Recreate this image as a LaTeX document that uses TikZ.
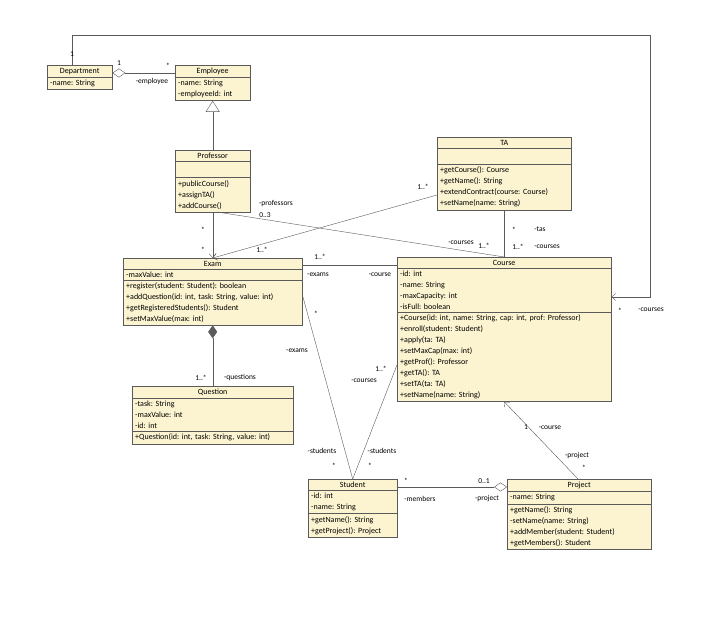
\documentclass[tikz,border=0pt]{standalone}
\usepackage{fontspec}
\setmainfont{Carlito}
\usetikzlibrary{shapes.multipart,arrows.meta,calc}
\definecolor{classfill}{RGB}{252,244,208}
\definecolor{lineclr}{RGB}{90,90,90}
\newcommand{\ctitle}[1]{\hfill#1\hfill\null}
\tikzset{
  umlclass/.style={draw=lineclr, fill=classfill, rectangle split, rectangle split parts=3,
    anchor=north west, inner xsep=3pt, align=left,
    inner ysep=2.5pt, font=\fontsize{8}{11}\selectfont\frenchspacing, text width=#1},
  umlsmall/.style={umlclass=#1, rectangle split parts=2},
  lbl/.style={font=\fontsize{7.5}{9}\selectfont, inner sep=1pt},
  assoc/.style={draw=lineclr},
  nav/.style={assoc, -{Straight Barb[length=4pt,width=7pt]}},
}
\begin{document}
\begin{tikzpicture}[x=1pt, y=-1pt]
    \useasboundingbox (0,0) rectangle (724,620);
    % classes
    \node[umlsmall=59pt] (dept) at (47,65) {\ctitle{Department}\nodepart{two}-name: String};
    \node[umlsmall=69pt] (emp) at (175,65) {\ctitle{Employee}\nodepart{two}-name: String\\-employeeId: int};
    \node[umlclass=69pt] (prof) at (175,150) {\ctitle{Professor}\nodepart{two}\strut\nodepart{three}+publicCourse()\\+assignTA()\\+addCourse()};
    \node[umlclass=128pt] (ta) at (437,137) {\ctitle{TA}\nodepart{two}\strut\nodepart{three}+getCourse(): Course\\+getName(): String\\+extendContract(course: Course)\\+setName(name: String)};
    \node[umlclass=173pt] (exam) at (123,258) {\ctitle{Exam}\nodepart{two}-maxValue: int\nodepart{three}+register(student: Student): boolean\\+addQuestion(id: int, task: String, value: int)\\+getRegisteredStudents(): Student\\+setMaxValue(max: int)};
    \node[umlclass=208pt] (course) at (397,257) {\ctitle{Course}\nodepart{two}-id: int\\-name: String\\-maxCapacity: int\\-isFull: boolean\nodepart{three}+Course(id: int, name: String, cap: int, prof: Professor)\\+enroll(student: Student)\\+apply(ta: TA)\\+setMaxCap(max: int)\\+getProf(): Professor\\+getTA(): TA\\+setTA(ta: TA)\\+setName(name: String)};
    \node[umlclass=155pt] (quest) at (132,386) {\ctitle{Question}\nodepart{two}-task: String\\-maxValue: int\\-id: int\nodepart{three}+Question(id: int, task: String, value: int)};
    \node[umlclass=83pt] (stud) at (308,479) {\ctitle{Student}\nodepart{two}-id: int\\-name: String\nodepart{three}+getName(): String\\+getProject(): Project};
    \node[umlclass=138pt] (proj) at (507,479) {\ctitle{Project}\nodepart{two}-name: String\nodepart{three}+getName(): String\\-setName(name: String)\\+addMember(student: Student)\\+getMembers(): Student};

    % connectors
    \coordinate (corner) at (650,35);
    \draw[nav] ($(dept.north west)+(25,0)$) |- (corner) |- ($(course.north east)+(0,40)$);
    \draw[assoc, {Diamond[open,length=13pt,width=9pt]}-] ($(dept.north east)+(0,8)$) -- ($(emp.north west)+(0,8)$);
    \draw[assoc, -{Triangle[open,length=11pt,width=14pt]}] (prof.north) -- (emp.south);
    \draw[nav] (prof.south) -- (exam.north);
    \draw[nav] ($(ta.north west)+(0,58)$) -- (exam.north);
    \draw[assoc] ($(prof.south)+(5,0)$) -- (course.north);
    \draw[assoc] (ta.south -| course.north) -- (course.north);
    \draw[assoc] ($(exam.north east)+(0,7)$) -- ($(course.north west)+(0,8)$);
    \draw[assoc] ($(exam.north east)+(0,37)$) -- (stud.north);
    \draw[assoc] ($(course.north west)+(0,108)$) -- (stud.north);
    \draw[assoc, -{Diamond[open,length=13pt,width=9pt]}] ($(stud.north east)+(0,8)$) -- ($(proj.north west)+(0,8)$);
    \draw[nav] ($(proj.north west)+(71,0)$) -- (course.south);
    \draw[assoc, {Diamond[length=13pt,width=9pt]}-] (exam.south) -- (quest.north);

    % multiplicities and roles
    \node[lbl] (m1) at (72,54) {1};
    \node[lbl] (m2) at (119,63) {1};
    \node[lbl] (m3) at (168,66) {*};
    \node[lbl] (r1) at (152,82) {-employee};
    \node[lbl] (r2) at (276,204) {-professors};
    \node[lbl] (m4) at (265,215) {0..3};
    \node[lbl] (m5) at (203,230) {*};
    \node[lbl] (m6) at (203,250) {*};
    \node[lbl] (m7) at (262,250) {1..*};
    \node[lbl] (m8) at (320,257) {1..*};
    \node[lbl] (m9) at (423,187) {1..*};
    \node[lbl] (r3) at (461,243) {-courses};
    \node[lbl] (m10) at (484,246) {1..*};
    \node[lbl] (m11) at (514,230) {*};
    \node[lbl] (r4) at (540,229) {-tas};
    \node[lbl] (m12) at (518,247) {1..*};
    \node[lbl] (r5) at (547,247) {-courses};
    \node[lbl] (r6) at (318,275) {-exams};
    \node[lbl] (r7) at (380,275) {-course};
    \node[lbl] (m13) at (316,314) {*};
    \node[lbl] (r8) at (297,351) {-exams};
    \node[lbl] (m14) at (381,369) {1..*};
    \node[lbl] (r9) at (364,381) {-courses};
    \node[lbl] (r10) at (322,451) {-students};
    \node[lbl] (m15) at (334,466) {*};
    \node[lbl] (r11) at (382,451) {-students};
    \node[lbl] (m16) at (370,466) {*};
    \node[lbl] (m17) at (406,481) {*};
    \node[lbl] (r12) at (420,499) {-members};
    \node[lbl] (m18) at (484,481) {0..1};
    \node[lbl] (r13) at (487,499) {-project};
    \node[lbl] (m19) at (526,427) {1};
    \node[lbl] (r14) at (550,428) {-course};
    \node[lbl] (r15) at (577,456) {-project};
    \node[lbl] (m20) at (584,468) {*};
    \node[lbl] (m21) at (620,311) {*};
    \node[lbl] (r16) at (651,310) {-courses};
    \node[lbl] (r17) at (240,378) {-questions};
    \node[lbl] (m22) at (201,378) {1..*};
\end{tikzpicture}
\end{document}
